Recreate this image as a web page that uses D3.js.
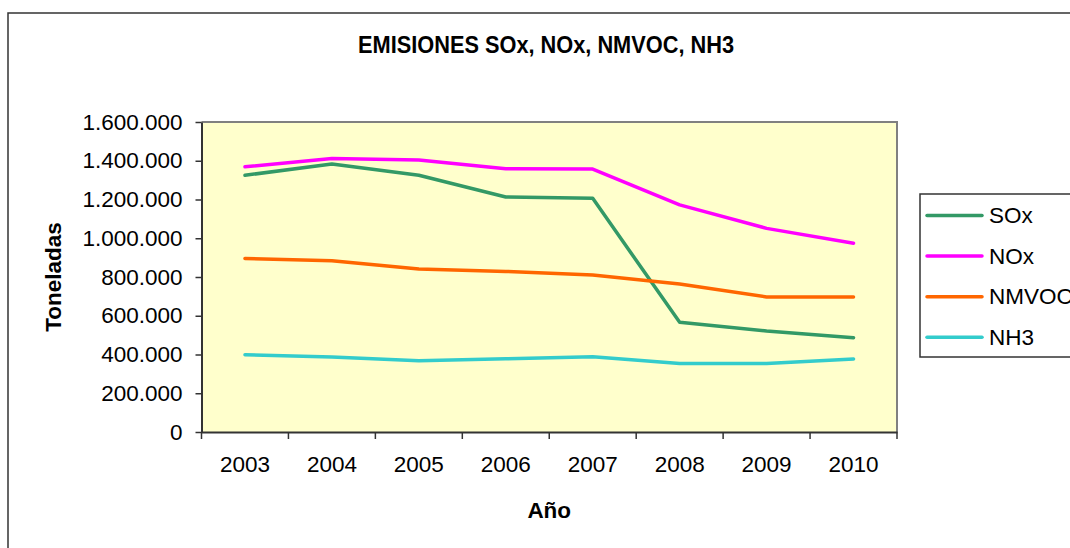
<!DOCTYPE html>
<html>
<head>
<meta charset="utf-8">
<script src="https://cdn.jsdelivr.net/npm/d3@7"></script>
<style>
  body { margin: 0; background: #fff; }
  text { font-family: "Liberation Sans", Arial, sans-serif; fill: #000; }
</style>
</head>
<body>
<svg id="chart" width="1070" height="548"></svg>
<script>
// data
var years = ["2003", "2004", "2005", "2006", "2007", "2008", "2009", "2010"];
var sox   = [1325000, 1383000, 1325000, 1213000, 1206000, 566000, 521000, 487000];
var nox   = [1369000, 1412000, 1404000, 1359000, 1357000, 1172000, 1051000, 974000];
var nmvoc = [896000, 884000, 841000, 829000, 810000, 764000, 697000, 697000];
var nh3   = [399000, 387000, 368000, 378000, 389000, 354000, 354000, 377000];
var seriesNames = ["SOx", "NOx", "NMVOC", "NH3"];
var yTicks = [0, 200000, 400000, 600000, 800000, 1000000, 1200000, 1400000, 1600000];

var series = [
  {name: seriesNames[0], values: sox, color: "#339966"},
  {name: seriesNames[1], values: nox, color: "#ff00ff"},
  {name: seriesNames[2], values: nmvoc, color: "#ff6600"},
  {name: seriesNames[3], values: nh3, color: "#33cccc"}
];

var svg = d3.select("#chart"),
    margin = {top: 122, left: 201.5, right: 173, bottom: 116},
    width = +svg.attr("width") - margin.left - margin.right,
    height = +svg.attr("height") - margin.top - margin.bottom;

var locale = d3.formatLocale({decimal: ",", thousands: ".", grouping: [3], currency: ["", ""]});
var fmt = locale.format(",d");

// outer chart frame (runs off the right and bottom edge)
svg.append("rect")
    .attr("x", 8).attr("y", 13)
    .attr("width", 1100).attr("height", 600)
    .attr("fill", "none")
    .attr("stroke", "#333")
    .attr("stroke-width", 1.5);

svg.append("text")
    .attr("x", 546).attr("y", 53)
    .attr("text-anchor", "middle")
    .attr("font-size", 23.5)
    .attr("font-weight", "bold")
    .attr("textLength", 376)
    .attr("lengthAdjust", "spacingAndGlyphs")
    .text("EMISIONES SOx, NOx, NMVOC, NH3");

var g = svg.append("g").attr("transform", "translate(" + margin.left + "," + margin.top + ")");

var x = d3.scaleBand().domain(years).range([0, width]).paddingInner(0).paddingOuter(0);
var y = d3.scaleLinear().domain([0, 1600000]).range([height, 0]);

// plot background
g.append("rect")
    .attr("width", width).attr("height", height)
    .attr("fill", "#ffffcc");
g.append("path")
    .attr("d", "M0,0H" + width + "V" + height)
    .attr("fill", "none")
    .attr("stroke", "#808080")
    .attr("stroke-width", 2);

// y axis
var yAxis = g.append("g")
    .call(d3.axisLeft(y).tickValues(yTicks).tickFormat(fmt).tickSizeInner(6).tickSizeOuter(0).tickPadding(13));
yAxis.select(".domain").attr("stroke", "#333").attr("stroke-width", 2);
yAxis.selectAll(".tick line").attr("stroke", "#333").attr("stroke-width", 1.5);
yAxis.selectAll("text").attr("font-size", 22.5).attr("font-family", "Liberation Sans, Arial, sans-serif");

// x axis: labels at band centers, ticks at band edges
var xAxis = g.append("g")
    .attr("transform", "translate(0," + height + ")")
    .call(d3.axisBottom(x).tickSize(0).tickPadding(24));
xAxis.select(".domain").attr("stroke", "#333").attr("stroke-width", 2);
xAxis.selectAll("text").attr("font-size", 22.5).attr("font-family", "Liberation Sans, Arial, sans-serif");
var edges = years.map(function(d) { return x(d); }).concat([width]);
xAxis.selectAll(".edge")
    .data(edges)
    .enter().append("line")
      .attr("class", "edge")
      .attr("x1", function(d) { return d; })
      .attr("x2", function(d) { return d; })
      .attr("y1", 0).attr("y2", 7)
      .attr("stroke", "#333")
      .attr("stroke-width", 1.5);

// lines
var line = d3.line()
    .x(function(d, i) { return x(years[i]) + x.bandwidth() / 2; })
    .y(function(d) { return y(d); });

g.selectAll(".series")
    .data(series)
    .enter().append("path")
      .attr("class", "series")
      .attr("d", function(d) { return line(d.values); })
      .attr("fill", "none")
      .attr("stroke", function(d) { return d.color; })
      .attr("stroke-width", 3.5)
      .attr("stroke-linejoin", "round")
      .attr("stroke-linecap", "round");

// axis titles
svg.append("text")
    .attr("x", margin.left + width / 2).attr("y", 518)
    .attr("text-anchor", "middle")
    .attr("font-size", 22.5)
    .attr("font-weight", "bold")
    .text("Año");

svg.append("text")
    .attr("transform", "translate(61," + (margin.top + height / 2) + ") rotate(-90)")
    .attr("text-anchor", "middle")
    .attr("font-size", 22.5)
    .attr("font-weight", "bold")
    .text("Toneladas");

// legend
var legend = svg.append("g").attr("transform", "translate(920,194)");
legend.append("rect")
    .attr("width", 200).attr("height", 163)
    .attr("fill", "#fff")
    .attr("stroke", "#333")
    .attr("stroke-width", 1.5);

var item = legend.selectAll(".item")
    .data(series)
    .enter().append("g")
      .attr("class", "item")
      .attr("transform", function(d, i) { return "translate(0," + (21.5 + i * 40.6) + ")"; });

item.append("line")
    .attr("x1", 7).attr("x2", 62)
    .attr("stroke", function(d) { return d.color; })
    .attr("stroke-width", 3.5)
    .attr("stroke-linecap", "round");

item.append("text")
    .attr("x", 69)
    .attr("dy", "0.33em")
    .attr("font-size", 22.5)
    .text(function(d) { return d.name; });
</script>
</body>
</html>
